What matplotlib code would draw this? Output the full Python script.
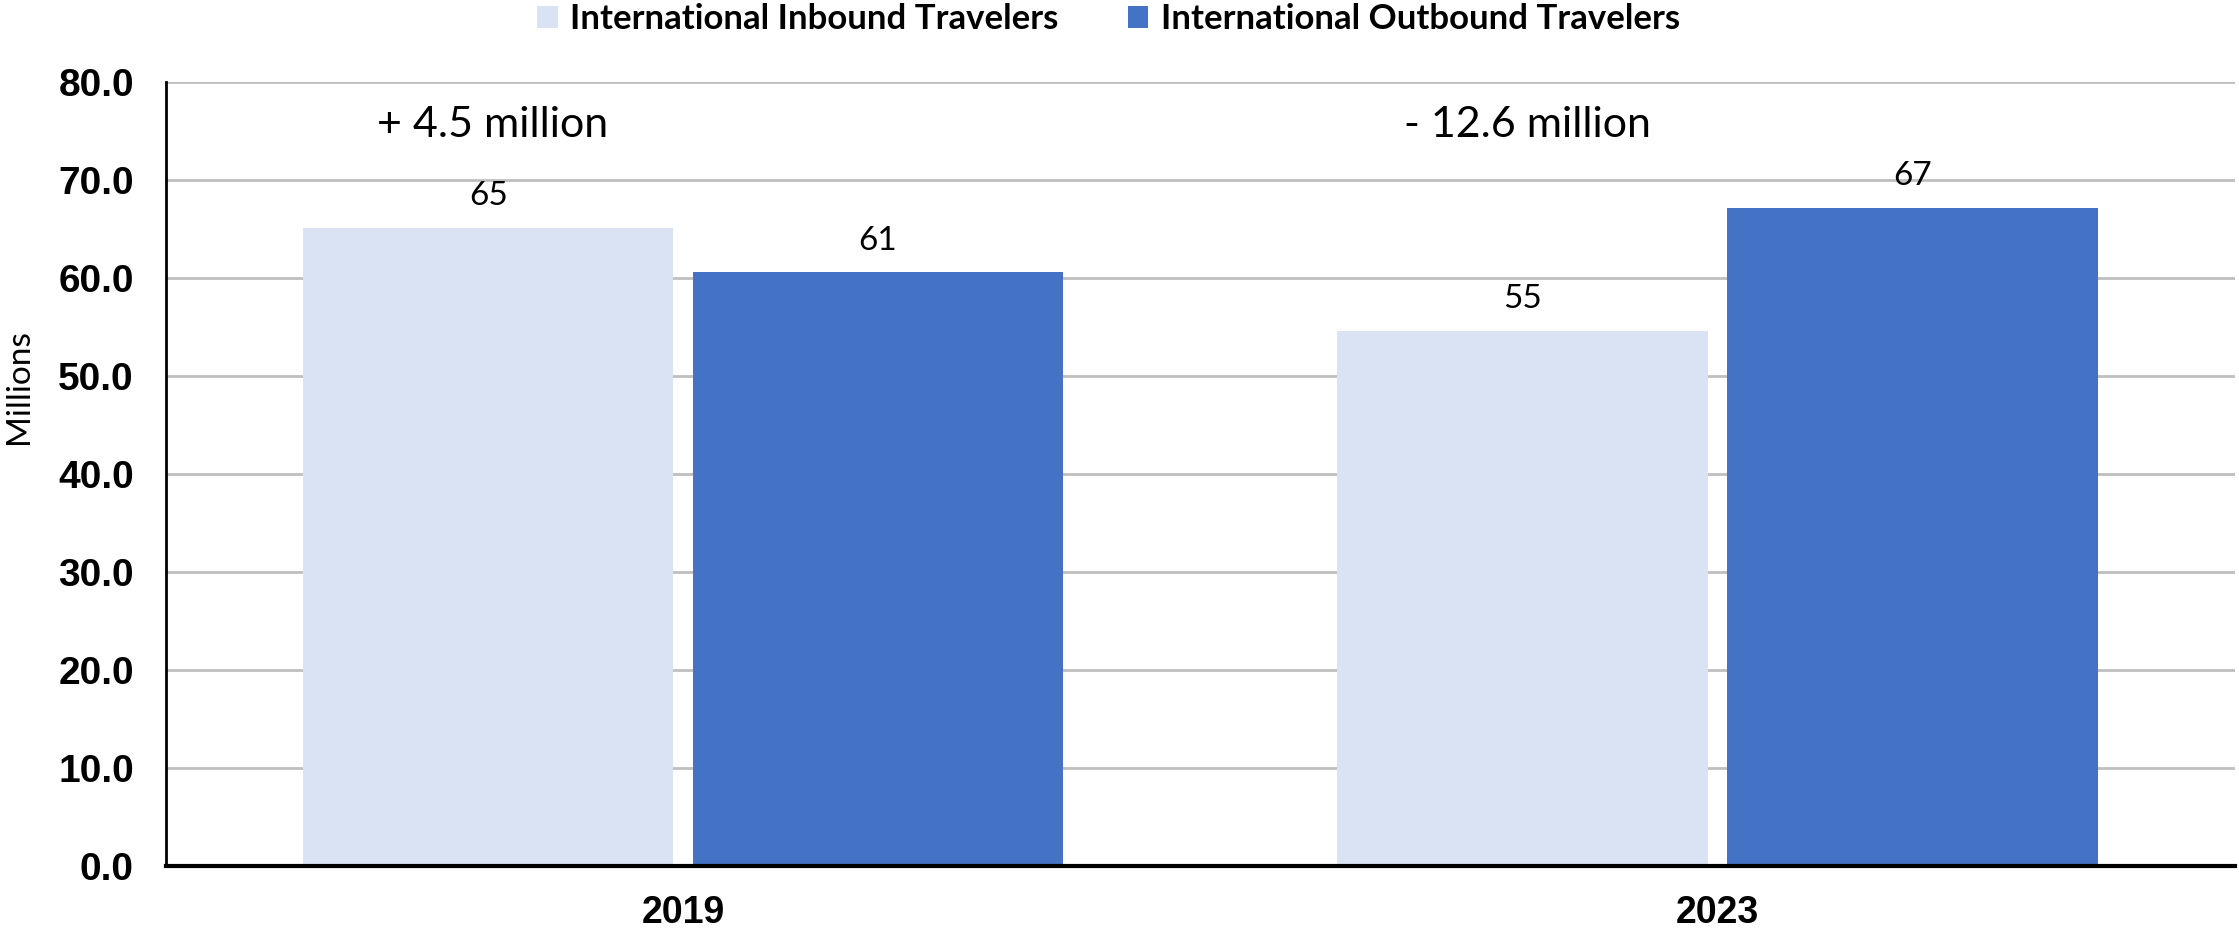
import matplotlib
matplotlib.use("Agg")
import matplotlib.pyplot as plt
import numpy as np

# Travelers (millions) by year
years = ["2019", "2023"]
inbound = [65.1, 54.6]
outbound = [60.6, 67.2]
series_names = ["International Inbound Travelers", "International Outbound Travelers"]
yticks = [0, 10, 20, 30, 40, 50, 60, 70, 80]

inbound_color = "#DAE3F3"
outbound_color = "#4472C4"
label_font = ["Lato", "DejaVu Sans"]
axis_font = ["Liberation Sans", "DejaVu Sans"]

fig = plt.figure(figsize=(22.39, 9.31), dpi=100)
ax = fig.add_axes([0.0741, 0.0698, 0.924, 0.842])

x = np.arange(len(years))
width = 0.358
offset = 0.1885
bars_in = ax.bar(x - offset, inbound, width, color=inbound_color, label=series_names[0], zorder=2)
bars_out = ax.bar(x + offset, outbound, width, color=outbound_color, label=series_names[1], zorder=2)

# value labels above each bar
for bars, vals in [(bars_in, inbound), (bars_out, outbound)]:
    for b, v in zip(bars, vals):
        ax.annotate(f"{v:.0f}", (b.get_x() + b.get_width() / 2, v), xytext=(0, 12),
                    textcoords="offset points", ha="center", va="bottom",
                    fontsize=24, family=label_font)

# difference between inbound and outbound per year
for i in range(len(years)):
    diff = inbound[i] - outbound[i]
    sign = "+" if diff >= 0 else "-"
    ax.text(i - 0.5 + 0.316, 75.6, f"{sign} {abs(diff):.1f} million", ha="center", va="center",
            fontsize=31, family=label_font)

ax.set_xlim(-0.5, 1.5)
ax.set_ylim(0, 80)
ax.set_yticks(yticks)
ax.set_yticklabels([f"{t:.1f}" for t in yticks], fontsize=28, fontweight="bold", family=axis_font)
ax.set_xticks(x)
ax.set_xticklabels(years, fontsize=27, fontweight="bold", family=axis_font)
ax.tick_params(length=0)
ax.tick_params(axis="y", pad=23)
ax.tick_params(axis="x", pad=21)

ax.grid(axis="y", color="#BFBFBF", linewidth=2, zorder=0)
ax.set_axisbelow(True)
for s in ["top", "right"]:
    ax.spines[s].set_visible(False)
ax.spines["left"].set_linewidth(2)
ax.spines["bottom"].set_linewidth(3)

ax.set_ylabel("Millions", fontsize=24, family=label_font)
ax.yaxis.set_label_coords(-0.0638, 0.612)

fig.legend(handles=[bars_in, bars_out], loc="upper center", bbox_to_anchor=(0.495, 1.03),
           ncol=2, frameon=False, handlelength=0.6, handleheight=0.6, handletextpad=0.35,
           columnspacing=2.0, prop={"family": label_font, "weight": "bold", "size": 25})

fig.savefig("out.png", dpi=100)
